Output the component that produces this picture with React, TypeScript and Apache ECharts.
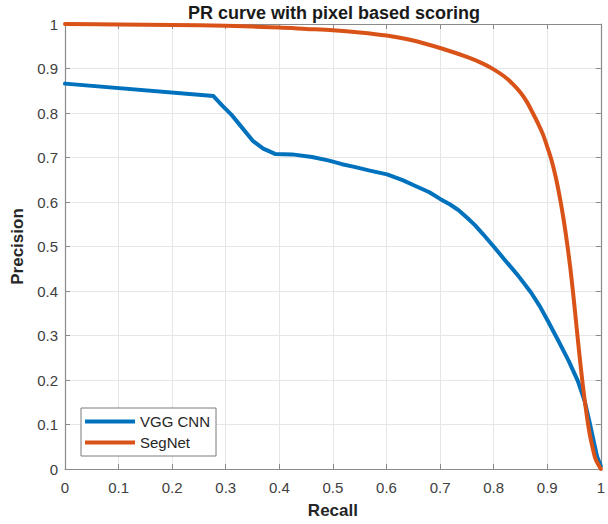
import React, { useEffect, useRef } from "react";
import * as echarts from "echarts";

const vggCnn: [number, number][] = [
  [0, 0.866], [0.277, 0.838], [0.294, 0.816], [0.31, 0.797], [0.325, 0.775],
  [0.35, 0.738], [0.37, 0.72], [0.392, 0.708], [0.424, 0.707], [0.461, 0.701],
  [0.493, 0.693], [0.517, 0.685], [0.54, 0.679], [0.567, 0.671], [0.601, 0.662],
  [0.63, 0.649], [0.654, 0.636], [0.68, 0.622], [0.7, 0.607], [0.718, 0.595],
  [0.734, 0.582], [0.75, 0.565], [0.765, 0.548], [0.78, 0.528], [0.8, 0.5],
  [0.82, 0.471], [0.846, 0.434], [0.87, 0.396], [0.886, 0.366], [0.901, 0.333],
  [0.92, 0.29], [0.94, 0.243], [0.957, 0.198], [0.97, 0.152], [0.979, 0.105],
  [0.988, 0.055], [0.993, 0.028], [1.0, 0.006],
];

const segNet: [number, number][] = [
  [0, 1.0], [0.1, 0.999], [0.2, 0.998], [0.3, 0.996], [0.4, 0.992], [0.45, 0.989],
  [0.5, 0.986], [0.55, 0.981], [0.6, 0.974], [0.65, 0.963], [0.7, 0.946],
  [0.75, 0.926], [0.78, 0.911], [0.8, 0.898], [0.82, 0.882], [0.835, 0.866],
  [0.85, 0.846], [0.862, 0.825], [0.873, 0.8], [0.883, 0.776], [0.892, 0.752],
  [0.9, 0.724], [0.908, 0.694], [0.916, 0.655], [0.924, 0.607], [0.931, 0.557],
  [0.937, 0.508], [0.943, 0.452], [0.949, 0.387], [0.955, 0.316], [0.961, 0.246],
  [0.967, 0.182], [0.973, 0.127], [0.979, 0.08], [0.985, 0.046], [0.99, 0.023],
  [1.0, 0.0],
];

const seriesNames = ["VGG CNN", "SegNet"];
const titleText = "PR curve with pixel based scoring";
const xName = "Recall";
const yName = "Precision";

const FONT = "'Liberation Sans', Arial, Helvetica, sans-serif";
const AXIS = "#8a8a8a";
const LABEL = "#404040";
const GRID = "#e6e6e6";

export default function App() {
  const ref = useRef<HTMLDivElement>(null);
  useEffect(() => {
    if (!ref.current) return;
    const chart = echarts.init(ref.current, undefined, { renderer: "svg" });
    const baseAxis = {
      type: "value" as const,
      min: 0,
      max: 1,
      interval: 0.1,
      axisLine: { show: true, onZero: false, lineStyle: { color: AXIS, width: 1.2 } },
      axisTick: { show: true, inside: true, length: 5, lineStyle: { color: AXIS } },
    };
    chart.setOption({
      animation: false,
      backgroundColor: "#ffffff",
      textStyle: { fontFamily: FONT },
      grid: { left: 65, right: 5, top: 24, bottom: 51, containLabel: false },
      graphic: [
        {
          type: "text",
          x: 334,
          y: 13,
          style: {
            text: titleText,
            font: `bold 18px ${FONT}`,
            fill: "#1a1a1a",
            align: "center",
            verticalAlign: "middle",
          },
        },
      ],
      legend: {
        data: seriesNames,
        orient: "vertical",
        left: 81,
        top: 408,
        padding: [5, 6, 5, 4],
        itemGap: 4,
        itemWidth: 50,
        itemHeight: 4,
        icon: "rect",
        backgroundColor: "#ffffff",
        borderColor: "#7a7a7a",
        borderWidth: 1,
        textStyle: { fontSize: 15, color: "#262626", fontFamily: FONT, lineHeight: 17 },
      },
      xAxis: [
        {
          ...baseAxis,
          position: "bottom",
          axisLabel: { fontSize: 15, color: LABEL, margin: 11, fontFamily: FONT },
          splitLine: { show: true, lineStyle: { color: GRID, width: 1 } },
          name: xName,
          nameLocation: "middle",
          nameGap: 33,
          nameTextStyle: { fontSize: 17, fontWeight: "bold", color: "#262626", fontFamily: FONT },
        },
        {
          ...baseAxis,
          position: "top",
          axisLabel: { show: false },
          splitLine: { show: false },
        },
      ],
      yAxis: [
        {
          ...baseAxis,
          position: "left",
          axisLabel: { fontSize: 15, color: LABEL, margin: 7, fontFamily: FONT },
          splitLine: { show: true, lineStyle: { color: GRID, width: 1 } },
          name: yName,
          nameLocation: "middle",
          nameGap: 35,
          nameTextStyle: { fontSize: 17, fontWeight: "bold", color: "#262626", fontFamily: FONT },
        },
        {
          ...baseAxis,
          position: "right",
          axisLabel: { show: false },
          splitLine: { show: false },
        },
      ],
      series: [
        {
          name: seriesNames[0],
          type: "line",
          data: vggCnn,
          showSymbol: false,
          symbol: "none",
          clip: false,
          smooth: false,
          lineStyle: { color: "#0072BD", width: 4, join: "round", cap: "round" },
          itemStyle: { color: "#0072BD" },
          z: 3,
        },
        {
          name: seriesNames[1],
          type: "line",
          data: segNet,
          showSymbol: false,
          symbol: "none",
          clip: false,
          smooth: 0.3,
          lineStyle: { color: "#D95319", width: 4, join: "round", cap: "round" },
          itemStyle: { color: "#D95319" },
          z: 4,
        },
      ],
    });
    return () => chart.dispose();
  }, []);
  return (
    <div
      ref={ref}
      style={{ position: "fixed", left: 0, top: 0, width: 608, height: 524, background: "#fff" }}
    />
  );
}
